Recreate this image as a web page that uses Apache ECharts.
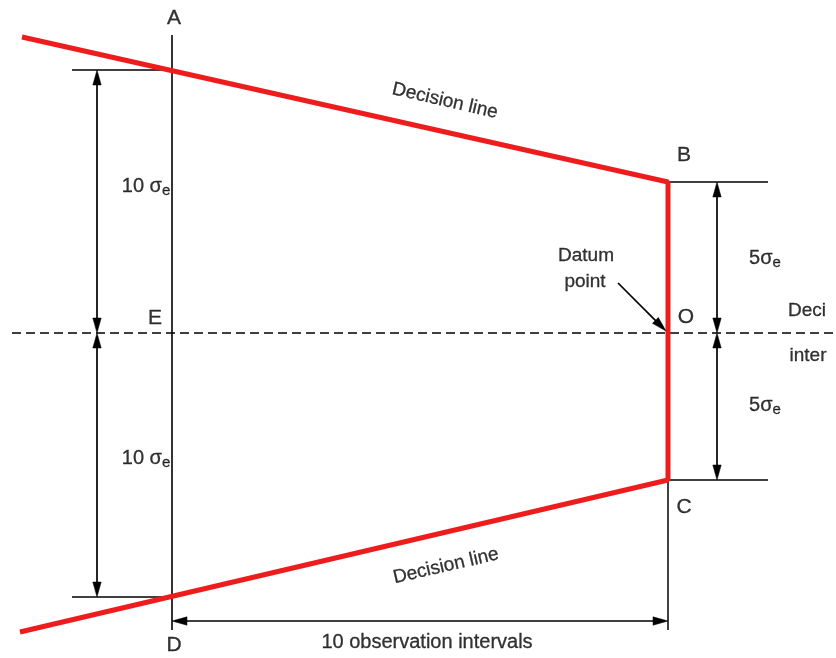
<!DOCTYPE html>
<html><head><meta charset="utf-8">
<script src="https://cdn.jsdelivr.net/npm/echarts@6/dist/echarts.min.js"></script>
<style>html,body{margin:0;padding:0;background:#fff}#c{width:836px;height:658px}</style>
</head><body><div id="c"></div>
<script>
// Diagram coordinates: x to the right, y measured downward (axis inverted).
const maskLine = [[22,37],[668,182],[668,480],[20,632]];
const axisAD = [[172,35],[172,630]];
const datumLine = [[12,333],[836,333]];
const refLines = [
  [[72,70],[172,70]],
  [[72,597],[172,597]],
  [[668,182],[768,182]],
  [[668,480],[768,480]],
  [[668,480],[668,630]]
];
// [x1, y1, x2, y2, head at start, head at end]
const arrowSegments = [
  [97,70,97,333,1,1],
  [97,333,97,597,1,1],
  [717,182,717,333,1,1],
  [717,333,717,480,1,1],
  [172,621,668,621,1,1],
  [618,283,666,331,0,1]
];
const pointNames = ['A','B','O','C','D','E'];
const pointPos = [[174,18],[684,155],[686,317],[684,507],[174,645],[155,318]];
const sigmaTexts = ['10 σ','10 σ','5σ','5σ'];
const sigmaPos = [[146,186],[146,458],[765,258],[765,405]];
const decisionTexts = ['Decision line','Decision line'];
const decisionPos = [[445,101],[446,566]];
const decisionAngle = [-13,13];
const otherTexts = ['Datum','point','10 observation intervals','Deci','inter'];
const otherPos = [[586,256],[585,282],[427,642],[807,311],[808,356]];

const FONT = 'Liberation Sans, Arial, sans-serif';
const INK = '#000';
const chart = echarts.init(document.getElementById('c'), null, {renderer:'canvas'});

function lineSeries(pts, style) {
  return {type:'line', data:pts, symbol:'none', silent:true, animation:false,
    lineStyle:Object.assign({color:INK, width:1.4}, style), z: style.z || 2};
}

const series = [];
series.push(lineSeries(datumLine, {type:[9,5], width:1.3}));
series.push(lineSeries(axisAD, {width:1.6}));
refLines.forEach(l => series.push(lineSeries(l, {width:1.5})));
series.push(lineSeries(maskLine, {color:'#ee1d1d', width:5, z:5}));

series.push({
  type:'custom', coordinateSystem:'cartesian2d', silent:true, animation:false, z:6,
  encode:{x:[0,2], y:[1,3]},
  data: arrowSegments,
  renderItem: function (params, api) {
    const p1 = api.coord([api.value(0), api.value(1)]);
    const p2 = api.coord([api.value(2), api.value(3)]);
    const hs = api.value(4), he = api.value(5);
    const dx = p2[0]-p1[0], dy = p2[1]-p1[1];
    const len = Math.hypot(dx, dy), ux = dx/len, uy = dy/len;
    const L = 15, W = 4.2;
    function head(tip, dx, dy) {
      const bx = tip[0]-dx*L, by = tip[1]-dy*L;
      return {type:'polygon', shape:{points:[[tip[0],tip[1]],[bx-dy*W, by+dx*W],[bx+dy*W, by-dx*W]]},
              style:{fill:INK, stroke:INK, lineWidth:0.5}};
    }
    const a = hs ? [p1[0]+ux*8, p1[1]+uy*8] : p1;
    const b = he ? [p2[0]-ux*8, p2[1]-uy*8] : p2;
    const children = [{type:'line', shape:{x1:a[0], y1:a[1], x2:b[0], y2:b[1]},
                       style:{stroke:INK, lineWidth:1.7}}];
    if (hs) children.push(head(p1, -ux, -uy));
    if (he) children.push(head(p2, ux, uy));
    return {type:'group', children: children};
  }
});

function textItems(texts, pos, labelFn) {
  return texts.map((t,i) => ({value:pos[i], label:labelFn(t,i)}));
}
const labelData = []
  .concat(textItems(pointNames, pointPos, t => ({formatter:t, fontSize:21})))
  .concat(textItems(sigmaTexts, sigmaPos, t => ({formatter:'{t|'+t+'}{s|e}'})))
  .concat(textItems(decisionTexts, decisionPos, (t,i) => ({formatter:t, fontSize:19, rotate:decisionAngle[i]})))
  .concat(textItems(otherTexts, otherPos, (t,i) => ({formatter:t, fontSize: i === 2 ? 20 : 19})));

const txt = {fontFamily:FONT, color:INK, textBorderColor:INK, textBorderWidth:0.3};
series.push({
  type:'scatter', symbolSize:0, silent:true, animation:false, z:10,
  label:Object.assign({show:true, position:'inside',
    rich:{t:Object.assign({fontSize:20}, txt), s:Object.assign({fontSize:15, padding:[10,0,0,0]}, txt)}}, txt),
  data: labelData
});

chart.setOption({
  backgroundColor:'#fff',
  animation:false,
  grid:{left:0,right:0,top:0,bottom:0},
  xAxis:{type:'value', min:0, max:836, show:false},
  yAxis:{type:'value', min:0, max:658, inverse:true, show:false},
  series: series
});
</script></body></html>
